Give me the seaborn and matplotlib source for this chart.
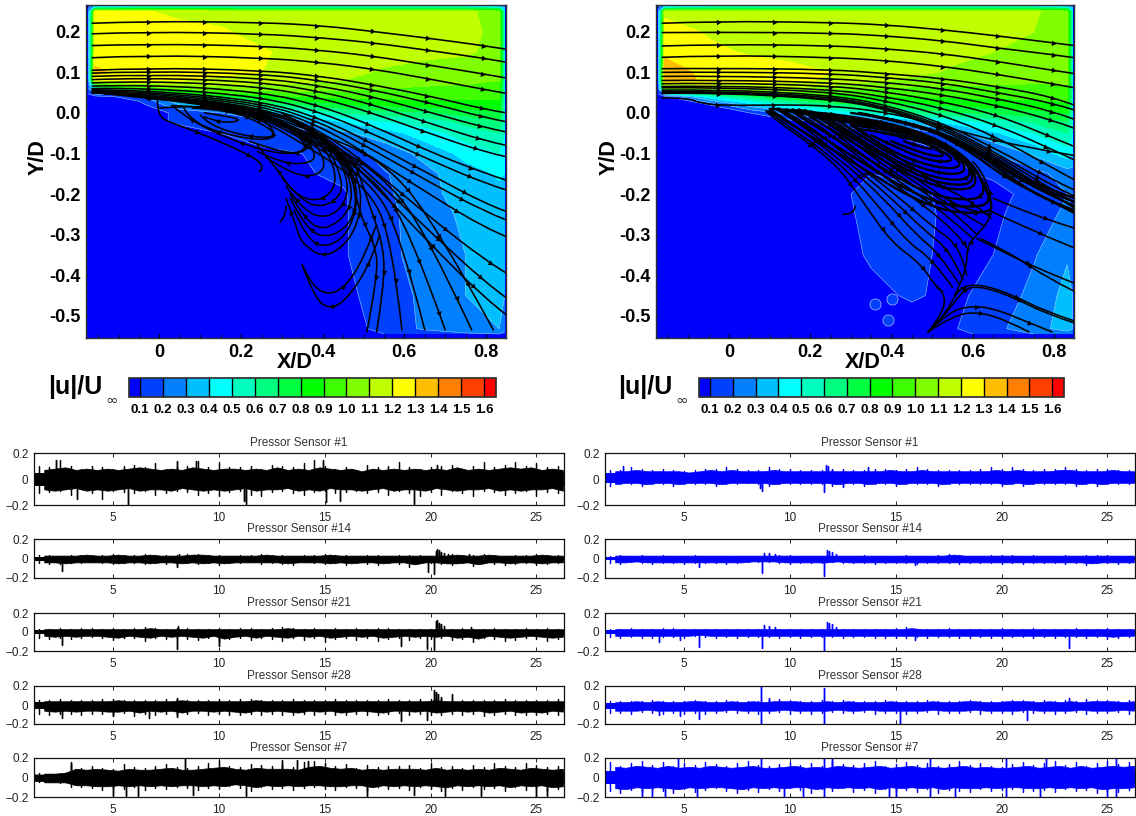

# Flow field contours with streamlines, and pressure sensor traces underneath

import numpy as np
import matplotlib
matplotlib.use("Agg")
import matplotlib.pyplot as plt
import matplotlib.colors as mcolors
import matplotlib.colorbar as mcolorbar
from matplotlib.path import Path
from matplotlib.patches import PathPatch
from matplotlib.ticker import MultipleLocator
import seaborn as sns

# ---- contour field, |u|/U ----
LEVELS = [0.1, 0.2, 0.3, 0.4, 0.5, 0.6, 0.7, 0.8, 0.9, 1.0, 1.1, 1.2, 1.3, 1.4, 1.5, 1.6]
BAND_COLORS = ["#0000ff", "#0040ff", "#0080ff", "#00bfff", "#00ffff", "#00ffbf", "#00ff80", "#00ff40",
               "#00ff00", "#40ff00", "#80ff00", "#bfff00", "#ffff00", "#ffbf00", "#ff8000", "#ff4000", "#ff0000"]
FIELD_X = [-0.174, -0.158, -0.05, 0.05, 0.15, 0.25, 0.35, 0.45, 0.55, 0.65, 0.75, 0.832, 0.846]
FIELD_Y = [-0.545, -0.532, -0.45, -0.35, -0.25, -0.2, -0.15, -0.1, -0.05, -0.02, 0, 0.02, 0.04, 0.06, 0.08, 0.1,
           0.15, 0.2, 0.25, 0.262]
LEFT_FIELD = [
    [.05, .05, .05, .05, .05, .05, .05, .07, .10, .13, .18, .20, .15],
    [.05, .05, .05, .05, .05, .05, .05, .07, .12, .22, .28, .30, .25],
    [.05, .05, .05, .05, .05, .05, .06, .07, .15, .22, .30, .34, .30],
    [.05, .05, .05, .05, .05, .05, .06, .09, .17, .24, .30, .35, .32],
    [.05, .05, .05, .05, .05, .05, .06, .09, .17, .25, .32, .37, .35],
    [.05, .05, .05, .05, .05, .05, .06, .09, .18, .26, .35, .38, .36],
    [.05, .05, .05, .05, .05, .05, .09, .12, .19, .27, .36, .41, .40],
    [.05, .05, .05, .05, .05, .09, .10, .14, .24, .33, .43, .50, .45],
    [.05, .05, .05, .06, .10, .12, .15, .28, .35, .45, .55, .60, .50],
    [.05, .05, .05, .12, .14, .18, .30, .42, .50, .55, .63, .70, .50],
    [.05, .05, .05, .12, .20, .30, .45, .60, .65, .68, .74, .78, .50],
    [.05, .05, .06, .30, .50, .60, .70, .78, .82, .84, .86, .87, .50],
    [.05, .06, .15, .55, .75, .85, .90, .92, .93, .93, .92, .92, .50],
    [.20, .50, .90, 1.0, 1.05, 1.05, 1.05, 1.02, 1.0, .98, .97, .97, .45],
    [.25, 1.25, 1.22, 1.2, 1.18, 1.15, 1.12, 1.1, 1.08, 1.05, 1.03, 1.0, .45],
    [.25, 1.32, 1.25, 1.24, 1.22, 1.2, 1.16, 1.12, 1.09, 1.07, 1.06, 1.04, .45],
    [.25, 1.25, 1.25, 1.25, 1.24, 1.21, 1.17, 1.14, 1.13, 1.12, 1.11, 1.08, .45],
    [.25, 1.25, 1.24, 1.23, 1.21, 1.17, 1.16, 1.15, 1.14, 1.13, 1.12, 1.08, .45],
    [.25, 1.22, 1.21, 1.18, 1.17, 1.16, 1.15, 1.14, 1.14, 1.13, 1.12, 1.06, .45],
    [.15, .35, .45, .45, .45, .45, .45, .45, .45, .45, .45, .40, .25],
]
RIGHT_FIELD = [
    [.05, .05, .05, .05, .05, .05, .05, .05, .08, .12, .20, .25, .20],
    [.05, .05, .05, .05, .05, .05, .05, .06, .09, .17, .26, .34, .30],
    [.05, .05, .05, .05, .05, .05, .08, .11, .08, .13, .23, .33, .30],
    [.05, .05, .05, .05, .05, .06, .11, .13, .07, .10, .19, .29, .28],
    [.05, .05, .05, .05, .05, .07, .12, .13, .08, .08, .15, .22, .20],
    [.05, .05, .05, .05, .05, .08, .12, .12, .08, .08, .12, .20, .20],
    [.05, .05, .05, .05, .05, .09, .10, .08, .09, .11, .16, .25, .25],
    [.05, .05, .05, .05, .05, .07, .07, .07, .10, .20, .32, .45, .40],
    [.05, .05, .05, .05, .06, .07, .08, .12, .25, .38, .50, .60, .50],
    [.05, .05, .05, .06, .08, .12, .20, .35, .45, .55, .62, .70, .50],
    [.05, .05, .05, .10, .25, .40, .50, .62, .68, .72, .76, .80, .50],
    [.05, .05, .10, .35, .50, .65, .72, .78, .82, .84, .86, .88, .50],
    [.05, .08, .45, .65, .80, .85, .88, .90, .91, .92, .92, .93, .50],
    [.20, 1.0, 1.1, 1.1, 1.1, 1.05, 1.0, .98, .97, .97, .97, .98, .45],
    [.25, 1.35, 1.28, 1.25, 1.23, 1.18, 1.12, 1.08, 1.06, 1.04, 1.02, 1.02, .45],
    [.25, 1.35, 1.27, 1.25, 1.23, 1.2, 1.15, 1.12, 1.09, 1.07, 1.05, 1.04, .45],
    [.25, 1.28, 1.22, 1.19, 1.17, 1.16, 1.15, 1.14, 1.12, 1.1, 1.09, 1.08, .45],
    [.25, 1.24, 1.19, 1.17, 1.16, 1.15, 1.15, 1.14, 1.13, 1.12, 1.1, 1.08, .45],
    [.25, 1.18, 1.16, 1.15, 1.15, 1.14, 1.14, 1.14, 1.13, 1.12, 1.11, 1.06, .45],
    [.15, .35, .45, .45, .45, .45, .45, .45, .45, .45, .45, .40, .25],
]
RIGHT_SPOTS_X = [0.358, 0.40, 0.39]
RIGHT_SPOTS_Y = [-0.47, -0.46, -0.51]

# ---- streamlines, left panel ----
LEFT_TOP_X = [-0.165, -0.03, 0.25, 0.4, 0.53, 0.66, 0.8, 0.85]
LEFT_TOP_Y = [
    [.221, .226, .223, .215, .2, .184, .165, .157],
    [.195, .2, .195, .185, .172, .154, .134, .125],
    [.166, .17, .165, .154, .139, .118, .095, .086],
    [.136, .142, .136, .124, .107, .084, .057, .048],
    [.105, .111, .105, .09, .068, .042, .008, 0],
    [.098, .103, .096, .079, .055, .025, -.012, -.022],
    [.09, .095, .086, .066, .038, .002, -.037, -.047],
    [.082, .087, .076, .052, .018, -.025, -.07, -.08],
    [.074, .079, .065, .036, -.003, -.05, -.098, -.108],
    [.066, .07, .052, .016, -.035, -.095, -.15, -.166],
    [.06, .062, .04, 0, -.055, -.115, -.175, -.19],
    [.057, .056, .03, -.015, -.08, -.15, -.225, -.243],
    [.055, .052, .025, -.025, -.095, -.17, -.245, -.264],
    [.053, .049, .02, -.035, -.115, -.2, -.285, -.305],
    [.052, .046, .015, -.045, -.145, -.255, -.365, -.395],
    [.05, .044, .012, -.05, -.165, -.29, -.42, -.456],
    [.05, .043, .01, -.055, -.18, -.32, -.46, -.498],
]
LEFT_STREAMS = [
    # down to the bottom edge
    [(-.16, .05), (0, .04), (.2, .015), (.35, -.035), (.55, -.116), (.68, -.28), (.818, -.535)],
    [(-.16, .05), (0, .04), (.2, .012), (.35, -.04), (.532, -.14), (.647, -.28), (.765, -.535)],
    [(-.16, .05), (0, .038), (.2, .01), (.34, -.045), (.524, -.157), (.614, -.289), (.70, -.535)],
    [(-.16, .05), (0, .036), (.2, .008), (.33, -.05), (.516, -.166), (.59, -.297), (.65, -.535)],
    [(-.16, .05), (0, .035), (.2, .006), (.32, -.055), (.51, -.18), (.57, -.313), (.594, -.535)],
    [(.1, .02), (.3, -.015), (.42, -.09), (.475, -.108), (.51, -.215), (.55, -.33), (.55, -.43), (.532, -.54)],
    [(.1, .02), (.28, -.015), (.4, -.09), (.46, -.1), (.49, -.25), (.53, -.33), (.535, -.40), (.508, -.54)],
    # loops that turn back under the shear layer
    [(.25, 0), (.33, -.035), (.365, -.08), (.35, -.1), (.29, -.095), (.22, -.07)],
    [(.22, .005), (.34, -.04), (.385, -.1), (.37, -.125), (.3, -.125), (.24, -.095)],
    [(.24, .005), (.36, -.045), (.41, -.12), (.39, -.155), (.33, -.155), (.26, -.11)],
    [(.3, 0), (.38, -.05), (.43, -.13), (.43, -.19), (.385, -.22), (.33, -.2), (.29, -.14), (.24, -.08)],
    [(.31, -.005), (.4, -.06), (.44, -.14), (.45, -.2), (.40, -.235), (.345, -.215), (.3, -.16)],
    [(.32, -.01), (.41, -.07), (.46, -.15), (.46, -.22), (.41, -.262), (.35, -.24), (.31, -.18)],
    [(.33, -.015), (.42, -.08), (.47, -.16), (.47, -.24), (.41, -.29), (.36, -.27), (.32, -.2)],
    [(.34, -.02), (.43, -.085), (.48, -.17), (.48, -.26), (.42, -.31), (.36, -.29), (.32, -.21)],
    [(.35, -.025), (.44, -.09), (.49, -.18), (.47, -.29), (.41, -.335), (.36, -.31), (.33, -.24)],
    [(.36, -.03), (.45, -.095), (.5, -.19), (.48, -.3), (.41, -.36), (.35, -.325), (.335, -.28), (.31, -.21)],
    # two lower loops, drawn from their left end
    [(.35, -.375), (.37, -.42), (.41, -.45), (.455, -.43), (.5, -.36), (.53, -.28)],
    [(.35, -.375), (.38, -.46), (.425, -.487), (.475, -.44), (.52, -.36), (.54, -.3)],
    # recirculation bubble
    [(0, .012), (.1, .02), (.26, 0), (.36, -.07), (.35, -.1), (.28, -.1), (.17, -.065), (.07, -.015), (.035, .015)],
    [(.03, .018), (.12, .015), (.25, -.01), (.29, -.055), (.25, -.07), (.13, -.045), (.07, -.01), (.06, .012)],
    [(.08, .012), (.17, .008), (.26, -.03), (.29, -.06), (.22, -.06), (.12, -.03), (.1, -.005)],
    [(.11, 0), (.18, -.01), (.2, -.02), (.15, -.025), (.11, -.01)],
    [(-.005, .03), (-.005, -.008), (.03, -.025), (.1, -.05), (.18, -.085), (.24, -.115), (.255, -.135), (.245, -.145)],
    [(.31, -.23), (.31, -.255), (.295, -.27)],
]
LEFT_HEAVY = []

# ---- streamlines, right panel ----
RIGHT_TOP_X = [-0.165, -0.03, 0.25, 0.386, 0.525, 0.66, 0.795, 0.85]
RIGHT_TOP_Y = [
    [.221, .226, .223, .217, .205, .19, .173, .166],
    [.198, .199, .197, .19, .178, .16, .144, .136],
    [.165, .169, .166, .158, .146, .127, .105, .097],
    [.137, .142, .137, .129, .115, .095, .072, .062],
    [.109, .11, .107, .097, .085, .065, .04, .019],
    [.1, .101, .097, .087, .074, .05, .025, .007],
    [.09, .091, .085, .075, .06, .035, .005, -.016],
    [.08, .081, .075, .063, .045, .018, -.017, -.038],
    [.072, .074, .067, .052, .028, -.005, -.06, -.083],
    [.065, .067, .058, .04, .012, -.03, -.09, -.116],
    [.062, .063, .052, .03, -.005, -.06, -.135, -.165],
    [.056, .058, .044, .02, -.025, -.09, -.165, -.19],
    [.052, .054, .04, .015, -.03, -.1, -.18, -.205],
    [.05, .052, .036, .012, -.035, -.105, -.19, -.22],
    [.048, .05, .034, .01, -.04, -.11, -.2, -.235],
]
RIGHT_STREAMS = [
    [(-.165, .037), (-.1, .037), (-.07, .023), (0, .018), (.12, .02), (.25, .018), (.4, 0), (.55, -.04), (.7, -.08), (.85, -.105)],
    # fan running down the diagonal to the node
    [(.09, .005), (.11, -.015), (.26, -.12), (.33, -.22), (.40, -.32), (.47, -.37), (.51, -.43), (.525, -.44)],
    [(.095, .005), (.12, -.015), (.27, -.12), (.36, -.22), (.44, -.32), (.5, -.36), (.55, -.43)],
    [(.10, .01), (.14, -.015), (.28, -.12), (.38, -.21), (.46, -.30), (.52, -.35), (.565, -.42)],
    [(.11, .012), (.155, -.012), (.29, -.118), (.40, -.21), (.48, -.29), (.545, -.34), (.575, -.41)],
    [(.12, .012), (.17, -.01), (.30, -.115), (.42, -.21), (.50, -.28), (.57, -.33), (.585, -.40)],
    [(.14, .01), (.19, -.005), (.32, -.11), (.44, -.2), (.52, -.26), (.58, -.32), (.59, -.34)],
    [(.155, .01), (.205, -.005), (.33, -.105), (.455, -.195), (.54, -.255), (.6, -.31)],
    [(.17, .01), (.22, -.005), (.34, -.10), (.47, -.19), (.56, -.25), (.61, -.3)],
    [(.185, .008), (.235, -.008), (.355, -.10), (.485, -.19), (.57, -.245), (.63, -.28)],
    [(.2, .005), (.25, -.01), (.37, -.10), (.5, -.19), (.58, -.24), (.645, -.25)],
    [(.25, 0), (.29, -.015), (.4, -.1), (.52, -.18), (.6, -.22), (.645, -.26)],
    # node near the bottom and what leaves it
    [(.49, -.54), (.53, -.5), (.555, -.45), (.58, -.425), (.63, -.425), (.7, -.45), (.78, -.49), (.85, -.513)],
    [(.49, -.54), (.525, -.505), (.56, -.46), (.585, -.43), (.63, -.43), (.7, -.455), (.78, -.495), (.85, -.518)],
    [(.49, -.54), (.54, -.49), (.6, -.475), (.66, -.485), (.72, -.51), (.795, -.54)],
    [(.49, -.54), (.55, -.5), (.61, -.49), (.68, -.51), (.738, -.54)],
    [(.49, -.54), (.53, -.49), (.53, -.44), (.51, -.43)],
    [(.555, -.45), (.585, -.39), (.585, -.33), (.61, -.3), (.645, -.26), (.645, -.2), (.62, -.14), (.6, -.12)],
    [(.61, -.31), (.66, -.335), (.75, -.38), (.85, -.42)],
    [(.62, -.31), (.7, -.35), (.78, -.405), (.85, -.44)],
    [(.64, -.24), (.72, -.28), (.85, -.333)],
    [(.65, -.21), (.74, -.25), (.85, -.284)],
    [(.28, -.25), (.31, -.25), (.31, -.23)],
]
RIGHT_HEAVY = [
    # thick bundle along the vortex top
    [(.3, 0), (.45, -.02), (.58, -.085), (.68, -.16), (.78, -.21), (.85, -.247)],
    [(.32, 0), (.46, -.025), (.6, -.09), (.7, -.165), (.78, -.215), (.85, -.24)],
    [(.34, -.005), (.47, -.03), (.62, -.1), (.72, -.17), (.85, -.23)],
    [(.36, -.01), (.48, -.03), (.63, -.105), (.74, -.175), (.85, -.22)],
    [(.38, -.012), (.5, -.035), (.65, -.11), (.76, -.18), (.85, -.21)],
    # vortex, outer to inner
    [(.1, .01), (.35, -.005), (.58, -.09), (.65, -.22), (.64, -.25), (.5, -.24), (.3, -.12), (.1, .005)],
    [(.13, .005), (.38, -.015), (.575, -.09), (.645, -.2), (.63, -.235), (.5, -.225), (.32, -.12), (.13, .005)],
    [(.16, 0), (.38, -.02), (.57, -.09), (.635, -.18), (.61, -.22), (.48, -.2), (.32, -.1), (.16, 0)],
    [(.2, -.01), (.40, -.025), (.56, -.085), (.615, -.16), (.59, -.195), (.48, -.175), (.34, -.095), (.2, -.01)],
    [(.22, -.012), (.40, -.028), (.55, -.085), (.607, -.15), (.585, -.183), (.48, -.165), (.35, -.09), (.22, -.012)],
    [(.24, -.015), (.40, -.03), (.54, -.08), (.60, -.14), (.58, -.17), (.48, -.155), (.36, -.09), (.24, -.015)],
    [(.27, -.02), (.41, -.038), (.535, -.083), (.587, -.132), (.565, -.155), (.475, -.14), (.365, -.085), (.27, -.02)],
    [(.3, -.03), (.42, -.045), (.53, -.085), (.575, -.125), (.55, -.14), (.47, -.125), (.37, -.08), (.3, -.03)],
    [(.32, -.04), (.44, -.055), (.53, -.095), (.555, -.12), (.5, -.12), (.42, -.09), (.35, -.055)],
    [(.38, -.05), (.47, -.065), (.53, -.1), (.52, -.11), (.46, -.095), (.40, -.07)],
    [(.42, -.06), (.48, -.07), (.51, -.09), (.47, -.085), (.43, -.07)],
]

# ---- pressure traces, in hundredths: spike tips from t=1.5 and the edge of the solid band from t=1.75 ----
SENSOR_NAMES = ["Pressor Sensor #1", "Pressor Sensor #14", "Pressor Sensor #21", "Pressor Sensor #28", "Pressor Sensor #7"]
TRACE_T = np.arange(1.5, 26.5, 0.5)
TRACE_T2 = TRACE_T + 0.25
CORE_T = [1.27, 2.95, 3.0, 26.3]

L1_HI = [10, 9, 15, 10, 8, 10, 9, 8, 10, 11, 9, 12, 8, 9, 10, 14, 9, 13, 9, 9, 10, 8, 11, 10, 9, 12, 15, 10, 8, 9, 7, 11, 9, 10, 13, 9, 8, 9, 10, 11, 8, 10, 13, 9, 11, 13, 10, 12, 9, 10]
L1_LO = [-11, -10, -9, -12, -8, -11, -15, -9, -10, -11, -9, -12, -11, -9, -10, -12, -11, -13, -10, -9, -12, -13, -10, -9, -11, -12, -10, -9, -11, -10, -9, -11, -10, -12, -9, -11, -13, -10, -12, -9, -11, -13, -9, -10, -12, -11, -9, -13, -10, -11]
L1_HI2 = [7, 8, 9, 7, 8, 7, 8, 7, 8, 9, 8, 7, 8, 7, 9, 8, 7, 8, 8, 7, 8, 7, 9, 7, 8, 7, 9, 8, 7, 8, 6, 8, 7, 8, 7, 8, 7, 8, 7, 9, 7, 8, 7, 8, 9, 8, 9, 7, 8, 7]
L1_LO2 = [-8, -9, -8, -7, -9, -8, -9, -8, -7, -9, -8, -8, -9, -7, -8, -9, -8, -9, -8, -7, -9, -8, -8, -7, -9, -8, -9, -7, -8, -8, -9, -8, -7, -9, -8, -8, -9, -7, -8, -9, -8, -8, -7, -9, -8, -9, -8, -8, -7, -9]
L14_HI = [4, 4, 3, 4, 4, 3, 4, 5, 4, 4, 5, 4, 4, 4, 5, 5, 4, 4, 3, 4, 4, 5, 4, 4, 3, 4, 4, 5, 4, 4, 3, 4, 4, 3, 4, 4, 4, 3, 4, 5, 4, 4, 5, 4, 3, 4, 4, 5, 4, 4]
L14_LO = [-5, -6, -6, -5, -5, -4, -5, -6, -5, -5, -6, -5, -6, -7, -5, -6, -5, -7, -5, -5, -4, -6, -5, -6, -7, -4, -5, -6, -5, -7, -5, -6, -7, -5, -6, -9, -5, -5, -6, -7, -5, -8, -5, -6, -7, -6, -5, -7, -6, -5]
L14_HI2 = [3, 3, 3, 3, 4, 3, 3, 4, 3, 3, 4, 3, 3, 3, 4, 4, 3, 3, 3, 3, 3, 4, 3, 3, 3, 3, 3, 4, 3, 3, 3, 3, 3, 3, 3, 3, 3, 3, 3, 4, 3, 3, 4, 3, 3, 3, 3, 4, 3, 3]
L14_LO2 = [-4, -4, -5, -4, -4, -4, -4, -5, -4, -4, -5, -4, -4, -5, -4, -5, -4, -5, -4, -4, -4, -4, -4, -5, -4, -4, -4, -5, -4, -5, -4, -4, -5, -4, -4, -6, -4, -4, -5, -5, -4, -6, -4, -4, -5, -4, -4, -5, -4, -4]
L21_HI = [3, 3, 4, 3, 4, 4, 3, 4, 3, 4, 5, 4, 3, 4, 4, 3, 3, 4, 3, 4, 4, 3, 4, 5, 4, 3, 4, 3, 4, 3, 4, 3, 4, 4, 3, 3, 3, 3, 4, 3, 4, 3, 3, 4, 3, 3, 4, 3, 4, 3]
L21_LO = [-6, -7, -6, -7, -6, -5, -6, -8, -6, -6, -9, -6, -7, -6, -7, -8, -6, -10, -7, -6, -8, -6, -7, -9, -6, -8, -6, -10, -7, -6, -8, -6, -9, -7, -6, -8, -6, -7, -6, -8, -7, -10, -6, -7, -9, -8, -6, -7, -9, -7]
L21_HI2 = [3, 3, 3, 3, 3, 3, 3, 3, 3, 3, 4, 3, 3, 3, 3, 3, 3, 3, 3, 3, 3, 3, 3, 4, 3, 3, 3, 3, 3, 3, 3, 3, 3, 3, 3, 3, 3, 3, 3, 3, 3, 3, 3, 3, 3, 3, 3, 3, 3, 3]
L21_LO2 = [-4, -5, -4, -5, -4, -4, -5, -6, -4, -5, -6, -4, -5, -4, -5, -6, -4, -7, -5, -4, -6, -4, -5, -6, -4, -5, -4, -6, -5, -4, -5, -4, -6, -5, -4, -5, -4, -5, -4, -6, -5, -7, -4, -5, -6, -5, -4, -5, -6, -5]
L28_HI = [5, 5, 6, 5, 5, 5, 6, 6, 5, 5, 5, 5, 6, 6, 5, 5, 5, 6, 5, 6, 6, 5, 5, 5, 6, 5, 5, 5, 6, 5, 5, 5, 5, 6, 5, 5, 6, 6, 6, 5, 5, 5, 5, 5, 6, 5, 5, 5, 5, 6]
L28_LO = [-9, -10, -9, -9, -10, -9, -9, -10, -8, -12, -9, -10, -9, -11, -9, -8, -10, -9, -10, -11, -9, -10, -9, -10, -11, -9, -10, -9, -11, -10, -9, -10, -11, -9, -8, -10, -9, -11, -10, -9, -10, -9, -12, -10, -9, -11, -10, -11, -9, -10]
L28_HI2 = [4, 4, 4, 4, 4, 4, 4, 5, 4, 4, 4, 4, 4, 5, 4, 4, 4, 4, 4, 4, 5, 4, 4, 4, 4, 4, 4, 4, 4, 4, 4, 4, 4, 4, 4, 4, 4, 5, 4, 4, 4, 4, 4, 4, 4, 4, 4, 4, 4, 4]
L28_LO2 = [-6, -7, -6, -7, -6, -6, -7, -7, -6, -8, -6, -7, -6, -8, -6, -6, -7, -6, -7, -8, -6, -7, -6, -7, -8, -6, -7, -6, -8, -7, -6, -7, -8, -6, -6, -7, -6, -8, -7, -6, -7, -6, -8, -7, -6, -8, -7, -8, -6, -7]
L7_HI = [5, 4, 4, 14, 10, 12, 10, 9, 14, 11, 10, 12, 14, 11, 10, 12, 15, 18, 12, 11, 14, 13, 12, 13, 11, 16, 17, 15, 12, 14, 10, 13, 11, 12, 12, 13, 10, 15, 11, 12, 10, 13, 11, 15, 12, 11, 15, 13, 11, 12]
L7_LO = [-5, -5, -6, -10, -10, -11, -13, -11, -12, -10, -13, -11, -12, -10, -11, -13, -11, -12, -9, -11, -14, -10, -12, -11, -13, -11, -10, -12, -13, -10, -11, -14, -10, -12, -11, -13, -10, -12, -14, -11, -13, -10, -12, -11, -14, -10, -13, -11, -14, -12]
L7_HI2 = [4, 4, 5, 9, 8, 9, 8, 7, 9, 8, 8, 9, 10, 8, 8, 9, 10, 11, 9, 8, 10, 9, 9, 9, 8, 11, 12, 10, 9, 10, 8, 9, 8, 9, 9, 9, 8, 10, 8, 9, 8, 9, 8, 10, 9, 8, 10, 9, 8, 9]
L7_LO2 = [-5, -5, -5, -8, -8, -9, -9, -8, -9, -8, -9, -8, -9, -8, -8, -9, -8, -9, -7, -8, -10, -8, -9, -8, -9, -8, -8, -9, -9, -8, -8, -10, -8, -9, -8, -9, -8, -9, -10, -8, -9, -8, -9, -8, -10, -8, -9, -8, -10, -9]
R1_HI = [7, 7, 9, 8, 7, 8, 7, 6, 7, 8, 8, 9, 8, 7, 7, 9, 8, 8, 7, 7, 7, 7, 8, 7, 7, 8, 8, 7, 8, 9, 8, 7, 7, 7, 7, 8, 9, 8, 9, 8, 7, 8, 8, 9, 8, 7, 8, 8, 7, 7]
R1_LO = [-5, -4, -4, -5, -4, -4, -5, -4, -4, -4, -5, -4, -4, -3, -4, -5, -4, -4, -4, -4, -4, -5, -4, -4, -5, -4, -4, -5, -4, -4, -4, -5, -4, -4, -4, -4, -4, -5, -4, -5, -4, -4, -4, -4, -5, -4, -5, -4, -4, -4]
R1_HI2 = [6, 6, 7, 6, 6, 6, 6, 5, 6, 7, 6, 7, 6, 6, 6, 7, 6, 6, 6, 6, 6, 6, 6, 6, 6, 6, 7, 6, 6, 7, 6, 6, 6, 6, 6, 6, 7, 6, 7, 6, 6, 6, 7, 7, 6, 6, 6, 7, 6, 6]
R1_LO2 = [-4, -3, -3, -4, -3, -3, -4, -3, -3, -3, -4, -3, -3, -3, -3, -4, -3, -3, -3, -3, -3, -4, -3, -3, -4, -3, -3, -4, -3, -3, -3, -4, -3, -3, -3, -3, -3, -4, -3, -4, -3, -3, -3, -3, -4, -3, -4, -3, -3, -3]
R14_HI = [3, 4, 3, 4, 3, 4, 3, 3, 4, 3, 3, 3, 3, 3, 3, 3, 4, 4, 3, 3, 3, 3, 3, 3, 4, 3, 3, 3, 4, 3, 3, 4, 5, 4, 3, 3, 4, 4, 4, 3, 4, 3, 3, 4, 3, 4, 4, 4, 3, 3]
R14_LO = [-5, -6, -4, -5, -6, -5, -5, -6, -5, -5, -5, -6, -5, -4, -4, -4, -5, -6, -5, -5, -5, -4, -5, -5, -5, -6, -5, -5, -5, -6, -5, -5, -5, -6, -5, -5, -5, -6, -5, -6, -5, -5, -5, -6, -5, -7, -5, -5, -6, -5]
R14_HI2 = [3, 3, 3, 3, 3, 3, 3, 3, 3, 3, 3, 3, 3, 3, 3, 3, 3, 3, 3, 3, 3, 3, 3, 3, 3, 3, 3, 3, 3, 3, 3, 3, 4, 3, 3, 3, 3, 3, 3, 3, 3, 3, 3, 3, 3, 3, 3, 3, 3, 3]
R14_LO2 = [-4, -4, -3, -4, -4, -4, -4, -4, -4, -4, -4, -4, -4, -3, -3, -3, -4, -4, -4, -4, -4, -3, -4, -4, -4, -4, -4, -4, -4, -4, -4, -4, -4, -4, -4, -4, -4, -4, -4, -4, -4, -4, -4, -4, -4, -5, -4, -4, -4, -4]
R21_HI = [3, 3, 4, 3, 3, 4, 4, 3, 3, 3, 3, 3, 3, 3, 3, 3, 3, 3, 3, 3, 3, 3, 3, 3, 3, 3, 3, 4, 5, 3, 3, 3, 4, 3, 3, 3, 3, 4, 3, 3, 4, 3, 3, 3, 4, 3, 3, 4, 3, 3]
R21_LO = [-5, -6, -5, -6, -6, -5, -5, -6, -4, -5, -6, -5, -6, -5, -5, -5, -6, -5, -6, -5, -5, -5, -6, -5, -5, -6, -6, -6, -6, -5, -6, -5, -5, -6, -6, -5, -6, -6, -5, -5, -6, -5, -6, -5, -5, -6, -5, -7, -6, -5]
R21_HI2 = [3, 3, 3, 3, 3, 3, 3, 3, 3, 3, 3, 3, 3, 3, 3, 3, 3, 3, 3, 3, 3, 3, 3, 3, 3, 3, 3, 3, 4, 3, 3, 3, 3, 3, 3, 3, 3, 3, 3, 3, 3, 3, 3, 3, 3, 3, 3, 3, 3, 3]
R21_LO2 = [-4, -4, -4, -4, -4, -4, -4, -4, -3, -4, -4, -4, -4, -4, -4, -4, -4, -4, -4, -4, -4, -4, -4, -4, -4, -4, -4, -4, -4, -4, -4, -4, -4, -4, -4, -4, -4, -4, -4, -4, -4, -4, -4, -4, -4, -4, -4, -5, -4, -4]
R28_HI = [4, 4, 4, 4, 5, 4, 4, 4, 5, 4, 4, 5, 4, 4, 4, 5, 6, 5, 4, 4, 5, 4, 5, 4, 4, 4, 5, 4, 4, 4, 5, 4, 4, 4, 5, 4, 4, 4, 5, 5, 4, 5, 4, 5, 4, 6, 5, 5, 4, 5]
R28_LO = [-8, -8, -9, -7, -8, -9, -8, -9, -8, -9, -8, -7, -8, -8, -9, -8, -7, -9, -8, -9, -8, -7, -8, -8, -7, -9, -8, -8, -9, -8, -7, -9, -8, -8, -7, -9, -8, -8, -9, -7, -8, -8, -9, -8, -7, -9, -8, -8, -7, -9]
R28_HI2 = [3, 3, 4, 3, 4, 3, 3, 4, 4, 3, 3, 4, 3, 4, 3, 4, 4, 4, 3, 3, 4, 3, 4, 3, 3, 3, 4, 3, 3, 3, 4, 3, 3, 4, 4, 3, 3, 4, 4, 4, 3, 4, 3, 4, 3, 4, 4, 4, 3, 4]
R28_LO2 = [-6, -6, -6, -5, -6, -6, -6, -6, -6, -6, -6, -5, -6, -6, -6, -6, -5, -6, -6, -6, -6, -5, -6, -6, -5, -6, -6, -6, -6, -6, -5, -6, -6, -6, -5, -6, -6, -6, -6, -5, -6, -6, -6, -6, -5, -6, -6, -6, -5, -6]
R7_HI = [16, 12, 15, 17, 13, 16, 12, 15, 13, 16, 14, 12, 15, 17, 13, 12, 14, 16, 13, 15, 12, 17, 14, 13, 15, 17, 12, 14, 16, 13, 15, 12, 14, 17, 13, 15, 12, 11, 14, 16, 13, 15, 17, 13, 16, 12, 15, 17, 14, 16]
R7_LO = [-14, -16, -13, -15, -12, -14, -16, -12, -15, -13, -11, -14, -16, -13, -15, -12, -14, -11, -13, -16, -12, -14, -11, -15, -13, -16, -12, -14, -13, -15, -12, -16, -13, -14, -15, -12, -14, -13, -12, -15, -14, -13, -15, -12, -14, -13, -16, -14, -15, -13]
R7_HI2 = [11, 10, 12, 11, 10, 12, 10, 11, 10, 12, 11, 10, 11, 12, 10, 10, 11, 12, 10, 11, 10, 12, 11, 10, 11, 12, 10, 11, 12, 10, 11, 10, 11, 12, 10, 11, 10, 10, 11, 12, 10, 11, 12, 10, 12, 10, 11, 12, 11, 12]
R7_LO2 = [-11, -12, -10, -11, -10, -11, -12, -10, -11, -10, -10, -11, -12, -10, -11, -10, -11, -10, -10, -12, -10, -11, -10, -11, -10, -12, -10, -11, -10, -11, -10, -12, -10, -11, -11, -10, -11, -10, -10, -11, -11, -10, -11, -10, -11, -10, -12, -11, -11, -10]

LEFT_HI = [L1_HI, L14_HI, L21_HI, L28_HI, L7_HI]
LEFT_LO = [L1_LO, L14_LO, L21_LO, L28_LO, L7_LO]
LEFT_EDGE_HI = [L1_HI2, L14_HI2, L21_HI2, L28_HI2, L7_HI2]
LEFT_EDGE_LO = [L1_LO2, L14_LO2, L21_LO2, L28_LO2, L7_LO2]
RIGHT_HI = [R1_HI, R14_HI, R21_HI, R28_HI, R7_HI]
RIGHT_LO = [R1_LO, R14_LO, R21_LO, R28_LO, R7_LO]
RIGHT_EDGE_HI = [R1_HI2, R14_HI2, R21_HI2, R28_HI2, R7_HI2]
RIGHT_EDGE_LO = [R1_LO2, R14_LO2, R21_LO2, R28_LO2, R7_LO2]

# flat band at the start of a trace, at CORE_T
LEFT_CORE_HI = [[.05] * 4, [.02] * 4, [.02] * 4, [.03] * 4, [.035, .035, .055, .055]]
LEFT_CORE_LO = [[-.05] * 4, [-.025] * 4, [-.025] * 4, [-.04] * 4, [-.04, -.04, -.06, -.06]]
RIGHT_CORE_HI = [[.045] * 4, [.02] * 4, [.02] * 4, [.025] * 4, [.07] * 4]
RIGHT_CORE_LO = [[-.03] * 4, [-.02] * 4, [-.02] * 4, [-.04] * 4, [-.07] * 4]

# big single spikes (time, value)
LEFT_EVENTS = [
    [(5.7, -.2), (11.3, -.19), (15.05, -.18), (15.7, -.17), (19.2, -.19), (3.3, -.15), (2.3, .15), (8.0, .14), (8.9, .14), (14.9, .15), (20.3, .11), (11.2, -.17)],
    [(8.0, -.09), (8.1, .05), (2.6, -.13), (19.9, -.14), (20.15, -.16), (20.25, .08), (20.3, .1), (20.4, .09), (20.5, .07), (20.65, .06), (20.8, .05), (21.8, .05)],
    [(2.6, -.14), (8.0, -.18), (8.05, .06), (10, -.15), (18.6, -.15), (19.85, -.18), (20.15, -.19), (20.25, .12), (20.3, .13), (20.4, .1), (20.5, .08), (20.65, .06), (21.9, .05)],
    [(2.6, -.14), (8, -.13), (5, -.12), (6.7, -.14), (18.6, -.17), (19.85, -.16), (20.15, .16), (20.25, .14), (20.35, .12), (20.5, .08), (21, .12), (8, .07)],
    [(5.0, -.19), (5.6, -.19), (6.2, -.19), (8.4, .2), (13, .18), (13.7, .18), (14.2, .17), (11.3, -.19), (17, -.19), (19.2, -.18), (20.7, -.19), (22.4, -.19), (25, -.2), (25.5, -.19), (3, .16), (8.8, -.18)],
]
RIGHT_EVENTS = [
    [(8.7, -.09), (11.6, -.1), (11.7, .11), (11.8, .1), (12, .08), (12.5, -.06), (13.7, .09), (2.1, .1), (8.6, -.07)],
    [(8.7, -.15), (8.8, .06), (9, .06), (9.3, .05), (11.6, -.18), (11.75, .09), (11.85, .08), (12, .07), (12.2, .05), (5.7, -.09), (15.9, -.07)],
    [(8.7, -.17), (8.8, .07), (9, .06), (9.3, .05), (11.6, -.2), (11.75, .11), (11.85, .1), (12, .08), (12.2, .05), (3.8, -.1), (5.7, -.16), (4.8, -.08), (23.2, -.17), (15.9, -.08)],
    [(8.65, .2), (8.65, -.2), (11.6, .18), (11.6, -.2), (5.7, -.15), (15.2, -.2), (21.2, -.16), (3.8, -.1), (4.8, -.12), (9, .07), (23.2, .07)],
    [(4.7, .2), (8.65, .2), (11.6, .2), (12, .2), (16.6, .2), (20.2, .2), (22.1, .2), (25.4, .2), (3, -.2), (3.5, -.2), (4.1, -.2), (5.6, -.2), (9.7, -.2), (10.6, -.2), (11.6, -.2), (14.7, -.2), (15, -.2), (16.6, -.2), (17.8, -.2), (20.2, -.2), (21.8, -.2), (25, -.2), (25.4, -.2)],
]

FIG_W, FIG_H = 1136, 816

sns.set_theme(style="white")
plt.rcParams["font.family"] = ["Liberation Sans", "DejaVu Sans"]
plt.rcParams["axes.edgecolor"] = "black"
plt.rcParams["text.color"] = "black"
plt.rcParams["xtick.color"] = "black"
plt.rcParams["ytick.color"] = "black"


def px_axes(fig, left, top, right, bottom):
    return fig.add_axes([left / FIG_W, 1 - bottom / FIG_H, (right - left) / FIG_W, (bottom - top) / FIG_H])


def draw_stream(ax, pts, lw=1.15):
    # quadratic segments through the midpoints keep the read points smooth
    pts = np.array(pts, dtype=float)
    verts = [pts[0]]
    codes = [Path.MOVETO]
    for i in range(1, len(pts) - 1):
        end = pts[i + 1] if i == len(pts) - 2 else (pts[i] + pts[i + 1]) / 2
        verts += [pts[i], end]
        codes += [Path.CURVE3, Path.CURVE3]
    if len(pts) == 2:
        verts.append(pts[1])
        codes.append(Path.LINETO)
    path = Path(verts, codes)
    ax.add_patch(PathPatch(path, fc="none", ec="black", lw=lw, zorder=3, capstyle="round"))

    # arrow heads every 56 px along the line
    flat = path.transformed(ax.transData).to_polygons(closed_only=False)[0]
    seg = np.hypot(*np.diff(flat, axis=0).T)
    dist = np.concatenate([[0], np.cumsum(seg)])
    back = ax.transData.inverted()
    for d in np.arange(56, dist[-1] - 8, 56):
        i = min(np.searchsorted(dist, d), len(flat) - 1)
        dx, dy = flat[i] - flat[i - 1]
        px = np.interp(d, dist, flat[:, 0])
        py = np.interp(d, dist, flat[:, 1])
        x, y = back.transform((px, py))
        ang = np.degrees(np.arctan2(dy, dx))
        ax.plot([x], [y], marker=(3, 0, ang - 90), ms=4.6, color="black", mew=0, zorder=4)


def draw_flow(fig, box, field, top_x, top_y, streams, heavy, cbar_box, label_x, xlabel_x, ylabel_x, spots=None):
    ax = px_axes(fig, *box)
    ax.set_xlim(-0.18, 0.849)
    ax.set_ylim(-0.555, 0.266)
    ax.set_facecolor("#0000ff")
    ax.contourf(FIELD_X, FIELD_Y, field, levels=LEVELS, colors=BAND_COLORS, extend="both", zorder=1)
    ax.contour(FIELD_X, FIELD_Y, field, levels=LEVELS[:3], colors="#a8c4ff", linewidths=0.5, alpha=0.7, zorder=1.5)
    if spots:
        ax.plot(spots[0], spots[1], ls="none", marker="o", ms=8, mfc="#0040ff", mec="#a8c4ff", mew=0.5, zorder=2)
    for row in top_y:
        draw_stream(ax, list(zip(top_x, row)))
    for line in streams:
        draw_stream(ax, line)
    for line in heavy:
        draw_stream(ax, line, lw=1.7)

    ax.xaxis.set_major_locator(MultipleLocator(0.2))
    ax.xaxis.set_minor_locator(MultipleLocator(0.05))
    ax.yaxis.set_major_locator(MultipleLocator(0.1))
    ax.yaxis.set_minor_locator(MultipleLocator(0.02))
    ax.tick_params(which="major", direction="in", length=6, width=0.8, color="black", top=False, right=False,
                   bottom=True, left=True, labelsize=13, pad=4)
    ax.tick_params(which="minor", direction="in", length=3, width=0.6, color="black", bottom=True, left=True)
    ax.xaxis.set_major_formatter(lambda v, p: "0" if abs(v) < 1e-6 else f"{v:.1f}")
    ax.yaxis.set_major_formatter(lambda v, p: "0.0" if abs(v) < 1e-6 else f"{v:.1f}")
    for lab in ax.get_xticklabels() + ax.get_yticklabels():
        lab.set_fontweight("bold")
    for sp in ax.spines.values():
        sp.set_color("#303030")
        sp.set_linewidth(1.0)

    fig.text(xlabel_x / FIG_W, 1 - 363 / FIG_H, "X/D", fontsize=15.5, fontweight="bold", ha="center", va="center")
    fig.text(ylabel_x / FIG_W, 1 - 157 / FIG_H, "Y/D", fontsize=15.5, fontweight="bold", ha="center", va="center", rotation=90)

    cax = px_axes(fig, *cbar_box)
    bounds = [0.052] + LEVELS + [1.652]
    cb = mcolorbar.Colorbar(cax, cmap=mcolors.ListedColormap(BAND_COLORS),
                            norm=mcolors.BoundaryNorm(bounds, len(BAND_COLORS)), orientation="horizontal",
                            spacing="proportional", drawedges=True, ticks=LEVELS, format="%.1f")
    cb.dividers.set_color("black")
    cb.dividers.set_linewidth(1.0)
    cb.outline.set_edgecolor("#303030")
    cb.minorticks_off()
    cax.tick_params(which="both", length=0, labelsize=9.5, pad=5)
    for lab in cax.get_xticklabels():
        lab.set_fontweight("bold")

    fig.text(label_x / FIG_W, 1 - 387 / FIG_H, "|u|/U", fontsize=18, fontweight="bold", ha="left", va="center")
    fig.text((label_x + 57) / FIG_W, 1 - 400 / FIG_H, "\u221e", fontsize=11, ha="left", va="center", color="#303030",
             family=["DejaVu Sans"])


def draw_trace(ax, hi, lo, edge_hi, edge_lo, core_hi, core_lo, events, color, title):
    # each spike is one stroke from the zero line up to its high and down to its low
    xs = [t for t in TRACE_T for _ in range(4)]
    ys = [v / 100 for h, l in zip(hi, lo) for v in (0, h, l, 0)]
    ax.fill_between(CORE_T, core_lo, core_hi, color=color, lw=0)
    ax.fill_between(TRACE_T2, np.array(edge_lo) / 100, np.array(edge_hi) / 100, color=color, lw=0.5)
    sns.lineplot(x=xs, y=ys, color=color, lw=0.9, estimator=None, sort=False, ax=ax, legend=False)
    ev = sorted(events)
    ex = [t for t, v in ev for _ in range(3)]
    ey = [k for t, v in ev for k in (0, v, 0)]
    sns.lineplot(x=ex, y=ey, color=color, lw=1.0, estimator=None, sort=False, ax=ax, legend=False)
    ax.set_xlim(1.27, 26.3)
    ax.set_ylim(-0.2, 0.2)
    ax.set_xticks([5, 10, 15, 20, 25])
    ax.set_yticks([-0.2, 0, 0.2])
    ax.set_yticklabels(["\u22120.2", "0", "0.2"])
    ax.tick_params(direction="in", length=3, width=0.7, color="#222222", labelcolor="#222222", labelsize=8.5,
                   top=True, right=True, bottom=True, left=True, pad=4)
    ax.tick_params(axis="x", pad=5)
    ax.set_xlabel("")
    ax.set_ylabel("")
    ax.set_title(title, fontsize=8.5, color="#333333", pad=5)
    for sp in ax.spines.values():
        sp.set_color("#111111")
        sp.set_linewidth(0.9)


fig = plt.figure(figsize=(FIG_W / 100, FIG_H / 100), dpi=100)

draw_flow(fig, (86, 5, 506, 338), LEFT_FIELD, LEFT_TOP_X, LEFT_TOP_Y, LEFT_STREAMS, LEFT_HEAVY,
          (129, 378, 496, 397), 48, 295, 38)
draw_flow(fig, (656, 5, 1074, 338), RIGHT_FIELD, RIGHT_TOP_X, RIGHT_TOP_Y, RIGHT_STREAMS, RIGHT_HEAVY,
          (699, 378, 1064, 397), 618, 863, 609, spots=(RIGHT_SPOTS_X, RIGHT_SPOTS_Y))

TRACE_TOPS = [453, 539, 613, 686, 758]
TRACE_BOTTOMS = [505, 578, 651, 724, 797]
for i in range(5):
    ax_l = px_axes(fig, 34, TRACE_TOPS[i], 564, TRACE_BOTTOMS[i])
    draw_trace(ax_l, LEFT_HI[i], LEFT_LO[i], LEFT_EDGE_HI[i], LEFT_EDGE_LO[i], LEFT_CORE_HI[i], LEFT_CORE_LO[i],
               LEFT_EVENTS[i], "black", SENSOR_NAMES[i])
    ax_r = px_axes(fig, 605, TRACE_TOPS[i], 1135, TRACE_BOTTOMS[i])
    draw_trace(ax_r, RIGHT_HI[i], RIGHT_LO[i], RIGHT_EDGE_HI[i], RIGHT_EDGE_LO[i], RIGHT_CORE_HI[i], RIGHT_CORE_LO[i],
               RIGHT_EVENTS[i], "#0000ff", SENSOR_NAMES[i])

fig.savefig("out.png", dpi=100)
